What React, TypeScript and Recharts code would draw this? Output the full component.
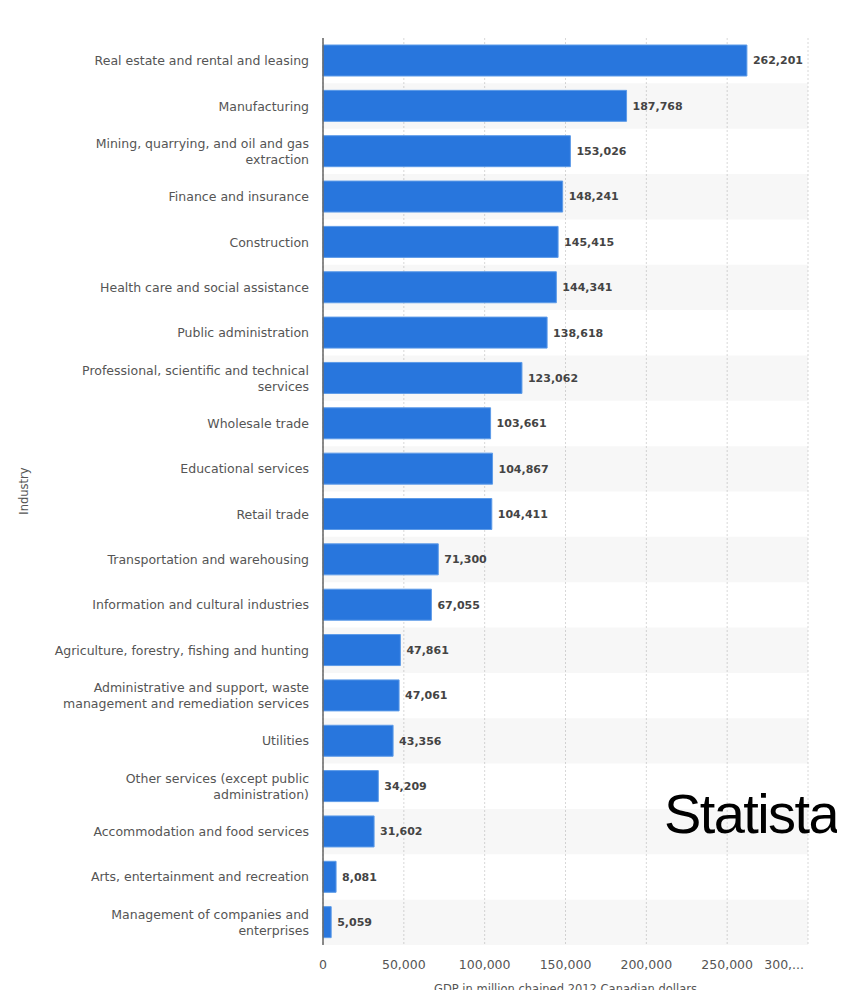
import { Bar, BarChart, CartesianGrid, LabelList, ReferenceArea, XAxis, YAxis, Label } from "recharts";

const categories = [
  "Real estate and rental and leasing",
  "Manufacturing",
  "Mining, quarrying, and oil and gas extraction",
  "Finance and insurance",
  "Construction",
  "Health care and social assistance",
  "Public administration",
  "Professional, scientific and technical services",
  "Wholesale trade",
  "Educational services",
  "Retail trade",
  "Transportation and warehousing",
  "Information and cultural industries",
  "Agriculture, forestry, fishing and hunting",
  "Administrative and support, waste management and remediation services",
  "Utilities",
  "Other services (except public administration)",
  "Accommodation and food services",
  "Arts, entertainment and recreation",
  "Management of companies and enterprises",
];

const gdpValues = [
  262201, 187768, 153026, 148241, 145415, 144341, 138618, 123062, 103661, 104867,
  104411, 71300, 67055, 47861, 47061, 43356, 34209, 31602, 8081, 5059,
];

const xTicks = [0, 50000, 100000, 150000, 200000, 250000, 300000];

const data = categories.map((name, i) => ({ name, value: gdpValues[i] }));

const FONT = "'DejaVu Sans', sans-serif";
const TICK_FONT_SIZE = 12.5;
const MAX_LABEL_WIDTH = 270;

let ctx: CanvasRenderingContext2D | null = null;
function measure(text: string) {
  if (!ctx) {
    ctx = document.createElement("canvas").getContext("2d");
  }
  if (!ctx) return text.length * 7.2;
  ctx.font = `${TICK_FONT_SIZE}px ${FONT}`;
  return ctx.measureText(text).width;
}

// break long industry names into lines, like the original
function wrap(text: string) {
  const words = text.split(" ");
  const lines: string[] = [];
  let cur = "";
  for (const w of words) {
    const next = cur ? cur + " " + w : w;
    if (cur && measure(next) > MAX_LABEL_WIDTH) {
      lines.push(cur);
      cur = w;
    } else {
      cur = next;
    }
  }
  if (cur) lines.push(cur);
  return lines;
}

function IndustryTick(props: any) {
  const { x, y, payload } = props;
  const lines = wrap(String(payload.value));
  const lh = 16;
  const start = -((lines.length - 1) * lh) / 2;
  return (
    <text x={x} y={y} textAnchor="end" fill="#555" fontSize={TICK_FONT_SIZE} fontFamily={FONT}>
      {lines.map((l, i) => (
        <tspan key={i} x={x} dy={i === 0 ? start + 4.5 : lh}>
          {l}
        </tspan>
      ))}
    </text>
  );
}

function ValueTick(props: any) {
  const { x, y, payload, index } = props;
  const last = index === xTicks.length - 1;
  const txt = last ? "300,..." : payload.value.toLocaleString("en-US");
  return (
    <text
      x={last ? x - 4 : x}
      y={y}
      dy="0.71em"
      textAnchor={last ? "end" : "middle"}
      fill="#555"
      fontSize={TICK_FONT_SIZE}
      fontFamily={FONT}
    >
      {txt}
    </text>
  );
}

export default function App() {
  return (
    <div style={{ position: "relative", width: 845, height: 998, margin: -8, background: "#fff", overflow: "hidden" }}>
      <div style={{ position: "absolute", left: 0, top: 0, width: 845, height: 3, background: "#eef0f3" }} />
      <BarChart
        width={845}
        height={998}
        data={data}
        layout="vertical"
        margin={{ top: 38, right: 37, bottom: 0, left: 0 }}
        barSize={31}
      >
        {data.map((d, i) =>
          i % 2 === 1 ? (
            <ReferenceArea
              key={d.name}
              y1={d.name}
              y2={d.name}
              fill="#000"
              fillOpacity={0.032}
              stroke="none"
              ifOverflow="visible"
            />
          ) : null
        )}
        <CartesianGrid horizontal={false} stroke="#d8d8d8" strokeDasharray="2 2" />
        <XAxis
          type="number"
          domain={[0, 300000]}
          ticks={xTicks}
          axisLine={false}
          tickLine={false}
          tickMargin={9}
          height={53}
          tick={<ValueTick />}
          interval={0}
        >
          <Label
            value="GDP in million chained 2012 Canadian dollars"
            position="insideBottom"
            offset={5}
            fill="#555"
            fontSize={11.5}
            fontFamily={FONT}
          />
        </XAxis>
        <YAxis
          type="category"
          dataKey="name"
          width={323}
          axisLine={{ stroke: "#666", strokeWidth: 1.5 }}
          tickLine={false}
          tickMargin={8}
          tick={<IndustryTick />}
          interval={0}
        />
        <Bar dataKey="value" fill="#2876dd" stroke="#5d9be8" strokeWidth={1} isAnimationActive={false}>
          <LabelList
            dataKey="value"
            position="right"
            offset={6}
            fill="#444"
            fontSize={11}
            fontWeight="bold"
            fontFamily={FONT}
            formatter={(v: any) => Number(v).toLocaleString("en-US")}
          />
        </Bar>
      </BarChart>
      <div
        style={{
          position: "absolute",
          left: 24,
          top: 491,
          transform: "translate(-50%, -50%) rotate(-90deg)",
          fontFamily: FONT,
          fontSize: 11.5,
          color: "#555",
          whiteSpace: "nowrap",
        }}
      >
        Industry
      </div>
      <div
        style={{
          position: "absolute",
          left: 664,
          top: 786,
          fontFamily: "'Liberation Sans', Arial, sans-serif",
          fontSize: 56,
          letterSpacing: -1.6,
          color: "#000",
          lineHeight: 1,
          whiteSpace: "nowrap",
        }}
      >
        Statista
      </div>
    </div>
  );
}
